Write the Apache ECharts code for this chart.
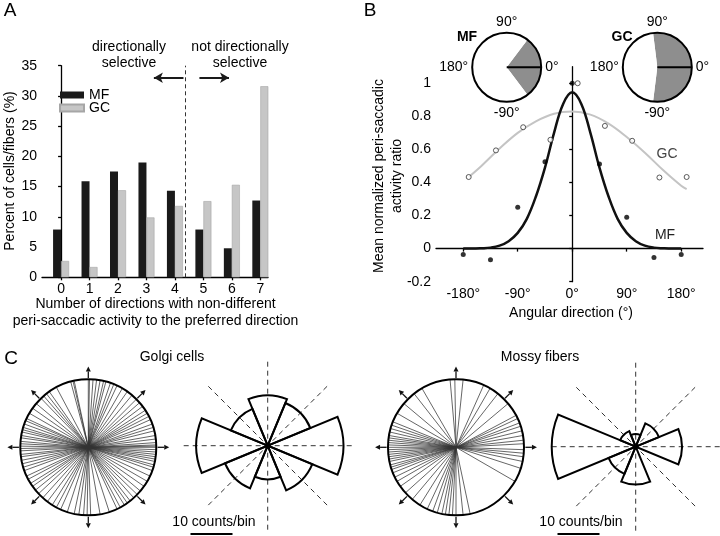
<!DOCTYPE html>
<html><head><meta charset="utf-8">
<script src="https://cdn.jsdelivr.net/npm/echarts@6/dist/echarts.min.js"></script>
<style>html,body{margin:0;padding:0;background:#fff}#c{width:720px;height:536px}</style>
</head><body><div id="c"></div>
<script>
// ---------- Panel A data ----------
const dirCounts = [0, 1, 2, 3, 4, 5, 6, 7];
const mfPercent = [7.9, 15.9, 17.5, 19.0, 14.3, 7.9, 4.8, 12.7];
const gcPercent = [2.7, 1.7, 14.4, 9.9, 11.8, 12.6, 15.3, 31.6];
const yTicksA = [0, 5, 10, 15, 20, 25, 30, 35];
// ---------- Panel B data ----------
const mfAngles = [-180, -135, -90, -45, 0, 45, 90, 135, 180];
const mfRatio = [-0.036, -0.068, 0.25, 0.525, 1.0, 0.511, 0.189, -0.054, -0.036];
const gcAngles = [-171, -126, -81, -36, 9, 54, 99, 144, 189];
const gcRatio = [0.433, 0.594, 0.734, 0.658, 1.0, 0.742, 0.652, 0.43, 0.433];
const mfFitAngles = [-180,-165,-150,-135,-120,-105,-90,-75,-60,-45,-30,-15,0,15,30,45,60,75,90,105,120,135,150,165,180];
const mfFit = [0,0,0.002,0.006,0.018,0.045,0.095,0.18,0.315,0.49,0.7,0.875,0.945,0.875,0.7,0.49,0.315,0.18,0.095,0.045,0.018,0.006,0.002,0,0];
const gcFitAngles = [-171,-150,-120,-90,-60,-30,0,30,60,90,120,150,180,189];
const gcFit = [0.433,0.50,0.605,0.70,0.77,0.816,0.829,0.81,0.756,0.675,0.58,0.475,0.38,0.36];
const xTicksB = [-180, -90, 0, 90, 180];
const yTicksB = [-0.2, 0, 0.2, 0.4, 0.6, 0.8, 1];
const mfPrefWidth = 106;   // degrees of gray sector, MF inset
const gcPrefWidth = 194;   // degrees of gray sector, GC inset
const insetAngleLabels = {0: '0°', 90: '90°', 180: '180°', 270: '-90°'};
// ---------- Panel C data ----------
const golgiAngles = [-20,-17,-15,-12,-10,-8,-6,-4,-2,0,1,2,4,7,10,14,17,20,
  24,27,30,33,37,41,45,50,55,60,65,
  68,71,75,77,80,83,86,89,90,102,103,105,
  118,125,128,131,134,140,145,150,155,157,
  160,163,165,167,170,172,175,177,179,181,183,186,188,191,194,197,200,
  205,208,212,215,219,223,228,233,238,242,246,
  252,258,262,266,269,272,280,288,
  295,298,302,305,308,312,316,320,325,330,335];
const mossyAngles = [-18,-12,-8,-5,-2,3,6,10,14,18,21,
  25,28,40,52,60,66,
  84,91,95,
  120,128,140,150,
  158,161,164,167,170,172,174,176,178,180,182,184,186,188,190,192,195,197,199,202,
  206,210,215,222,230,238,245,
  250,254,258,261,264,267,270,276,282,
  330];
const binLabels = ['0°','45°','90°','135°','180°','225°','270°','315°'];
const golgiBins = [18, 11, 12, 9.5, 17, 11, 8, 11.5];
const mossyBins = [11, 6, 3, 4, 20, 7, 9, 0];
const arrowDirs = [0, 45, 90, 135, 180, 225, 270, 315];
const scaleBarCounts = 10;

// ---------- layout / style ----------
const FONT = '"Liberation Sans", Arial, sans-serif';
const FS = 14;
const ROSE_R = 84, ROSE_MAX = 20;
const FAN_R = 68;
const INSET_R = 34.5;
const GRAY = '#8e8e8e';

const chart = echarts.init(document.getElementById('c'), null, {renderer: 'canvas'});

const polars = [
  {center: [506.7, 67.3], radius: INSET_R},   // 0 MF inset
  {center: [657.3, 67.3], radius: INSET_R},   // 1 GC inset
  {center: [88.3, 447.3], radius: FAN_R},     // 2 Golgi fan
  {center: [456, 447.3], radius: FAN_R},      // 3 Mossy fan
  {center: [267.7, 445.7], radius: ROSE_R},   // 4 Golgi rose
  {center: [267.7, 445.7], radius: ROSE_R},   // 5 Golgi dashed
  {center: [635.7, 446.7], radius: ROSE_R},   // 6 Mossy rose
  {center: [635.7, 446.7], radius: ROSE_R}    // 7 Mossy dashed
];

const hidden = {axisLine: {show: false}, axisTick: {show: false}, axisLabel: {show: false}, splitLine: {show: false}};
function circleAngle(i, labels) {
  return {polarIndex: i, type: 'value', min: 0, max: 360, interval: 90, startAngle: 0, clockwise: false, z: 5,
    axisLine: {show: true, lineStyle: {color: '#000', width: 2}},
    axisTick: {show: false}, splitLine: {show: false},
    axisLabel: labels ? {show: true, margin: 4, fontSize: FS, color: '#000', fontFamily: FONT,
      formatter: v => insetAngleLabels[v] || ''} : {show: false}};
}
const angleAxes = [
  circleAngle(0, true), circleAngle(1, true), circleAngle(2, false), circleAngle(3, false),
  Object.assign({polarIndex: 4, type: 'category', data: binLabels, startAngle: -22.5, clockwise: false}, hidden),
  Object.assign({polarIndex: 5, type: 'value', min: 0, max: 360, interval: 45, startAngle: 0, clockwise: false}, hidden,
    {splitLine: {show: true, lineStyle: {color: '#333', width: 1, type: [5, 4]}}}),
  Object.assign({polarIndex: 6, type: 'category', data: binLabels, startAngle: -22.5, clockwise: false}, hidden),
  Object.assign({polarIndex: 7, type: 'value', min: 0, max: 360, interval: 45, startAngle: 0, clockwise: false}, hidden,
    {splitLine: {show: true, lineStyle: {color: '#333', width: 1, type: [5, 4]}}})
];
const radiusAxes = polars.map((p, i) => Object.assign({polarIndex: i, type: 'value', min: 0,
  max: (i === 4 || i === 6) ? ROSE_MAX : 1}, hidden));

function fanSeries(pi, angles) {
  return {type: 'custom', coordinateSystem: 'polar', polarIndex: pi, silent: true, animation: false,
    data: angles.map(a => [1, a]),
    renderItem(params, api) {
      const p0 = api.coord([0, api.value(1)]);
      const p1 = api.coord([api.value(0), api.value(1)]);
      return {type: 'line', shape: {x1: p0[0], y1: p0[1], x2: p1[0], y2: p1[1]},
        style: {stroke: '#333', lineWidth: 0.75}};
    }};
}
function arrowSeries(pi) {
  return {type: 'custom', coordinateSystem: 'polar', polarIndex: pi, silent: true, animation: false,
    data: arrowDirs.map(a => [1, a]),
    renderItem(params, api) {
      const a = api.value(1);
      const p0 = api.coord([1.02, a]);
      const p1 = api.coord([1.19, a]);
      const dx = p1[0] - p0[0], dy = p1[1] - p0[1];
      const L = Math.sqrt(dx * dx + dy * dy);
      const ux = dx / L, uy = dy / L, nx = -uy, ny = ux;
      const bx = p1[0] - 5 * ux, by = p1[1] - 5 * uy;
      return {type: 'group', children: [
        {type: 'line', shape: {x1: p0[0], y1: p0[1], x2: bx, y2: by}, style: {stroke: '#111', lineWidth: 1.3}},
        {type: 'polygon', shape: {points: [[p1[0], p1[1]], [bx + 2.5 * nx, by + 2.5 * ny], [bx - 2.5 * nx, by - 2.5 * ny]]},
          style: {fill: '#111'}}
      ]};
    }};
}
function roseSeries(pi, bins) {
  return {type: 'bar', coordinateSystem: 'polar', polarIndex: pi, data: bins, barCategoryGap: '0%',
    silent: true, animation: false, z: 3,
    itemStyle: {color: 'rgba(255,255,255,0)', borderColor: '#000', borderWidth: 2}};
}
function insetPie(p, width) {
  return {type: 'pie', center: p.center, radius: [0, p.radius], startAngle: width / 2, clockwise: true,
    silent: true, animation: false, z: 1, label: {show: false}, labelLine: {show: false},
    itemStyle: {borderWidth: 0},
    data: [{value: width, itemStyle: {color: GRAY}}, {value: 360 - width, itemStyle: {color: '#fff'}}]};
}
function prefLine(pi) {
  return {type: 'line', coordinateSystem: 'polar', polarIndex: pi, data: [[0, 0], [1, 0]], symbol: 'none',
    silent: true, animation: false, z: 6, lineStyle: {color: '#000', width: 2}};
}

const axisLineStyle = {color: '#000', width: 1.3};
const txt = (text, x, y, extra) => ({type: 'text', x: x, y: y, silent: true,
  style: Object.assign({text: text, font: FS + 'px ' + FONT, fill: '#000', align: 'center', verticalAlign: 'middle',
    textAlign: 'center', textVerticalAlign: 'middle'}, extra || {})});
const rtxt = (text, x, y, extra) => Object.assign(txt(text, x, y, extra), {rotation: Math.PI / 2});
const barPx = scaleBarCounts * ROSE_R / ROSE_MAX;

const option = {
  animation: false,
  backgroundColor: '#fff',
  textStyle: {fontFamily: FONT},
  grid: [
    {left: 42, top: 65.7, width: 226, height: 211.6},
    {left: 436, top: 66.7, width: 267, height: 215}
  ],
  xAxis: [
    {gridIndex: 0, type: 'value', min: -0.67, max: 7.27,
      axisLine: {lineStyle: axisLineStyle}, splitLine: {show: false},
      axisTick: {customValues: dirCounts, length: 3, lineStyle: axisLineStyle},
      axisLabel: {customValues: dirCounts, fontSize: FS, color: '#000', margin: 5}},
    {gridIndex: 1, type: 'value', min: -225, max: 216,
      axisLine: {lineStyle: axisLineStyle}, splitLine: {show: false},
      axisTick: {customValues: xTicksB, length: 3, lineStyle: axisLineStyle},
      axisLabel: {customValues: xTicksB, fontSize: FS, color: '#000', margin: 5, formatter: v => v + '°'}}
  ],
  yAxis: [
    {gridIndex: 0, type: 'value', min: 0, max: 35,
      axisLine: {show: true, lineStyle: axisLineStyle}, splitLine: {show: false},
      axisTick: {show: true, customValues: yTicksA, length: 3, lineStyle: axisLineStyle},
      axisLabel: {customValues: yTicksA, fontSize: FS, color: '#000', margin: 5}},
    {gridIndex: 1, type: 'value', min: -0.2, max: 1.1,
      axisLine: {show: true, lineStyle: axisLineStyle}, splitLine: {show: false},
      axisTick: {show: true, customValues: yTicksB, length: 3, lineStyle: axisLineStyle},
      axisLabel: {customValues: yTicksB, fontSize: FS, color: '#000', margin: 5, formatter: v => String(+(+v).toFixed(1))}}
  ],
  polar: polars,
  angleAxis: angleAxes,
  radiusAxis: radiusAxes,
  legend: {data: ['MF', 'GC'], orient: 'vertical', left: 59, top: 88, itemWidth: 24, itemHeight: 7, itemGap: -1,
    padding: 0, icon: 'rect', textStyle: {fontSize: FS, color: '#000', fontFamily: FONT}, selectedMode: false},
  series: [
    {name: 'MF', type: 'bar', xAxisIndex: 0, yAxisIndex: 0, barWidth: 8, barGap: '0%',
      data: dirCounts.map((d, i) => [d, mfPercent[i]]),
      itemStyle: {color: '#1a1a1a'},
      markLine: {silent: true, symbol: 'none', label: {show: false}, animation: false,
        lineStyle: {type: [4, 3], color: '#333', width: 1},
        data: [[{coord: [4.5, 0]}, {coord: [4.5, 35]}]]}},
    {name: 'GC', type: 'bar', xAxisIndex: 0, yAxisIndex: 0, barWidth: 8, barGap: '0%',
      data: dirCounts.map((d, i) => [d, gcPercent[i]]),
      itemStyle: {color: '#c6c6c6', borderColor: '#a6a6a6', borderWidth: 0.6},
      markLine: {silent: true, symbol: ['none', 'arrow'], symbolSize: [8, 9], label: {show: false}, animation: false,
        lineStyle: {type: 'solid', color: '#1a1a1a', width: 2},
        data: [[{coord: [4.16, 33]}, {coord: [3.12, 33]}], [{coord: [4.72, 33]}, {coord: [5.76, 33]}]]}},
    {name: 'GC fit', type: 'line', xAxisIndex: 1, yAxisIndex: 1, smooth: 0.4, symbol: 'none',
      data: gcFitAngles.map((a, i) => [a, gcFit[i]]), lineStyle: {color: '#c4c4c4', width: 2}, z: 2},
    {name: 'MF fit', type: 'line', xAxisIndex: 1, yAxisIndex: 1, smooth: 0.4, symbol: 'none',
      data: mfFitAngles.map((a, i) => [a, mfFit[i]]), lineStyle: {color: '#111', width: 2.5}, z: 3},
    {name: 'MF pts', type: 'scatter', xAxisIndex: 1, yAxisIndex: 1, symbolSize: 5,
      data: mfAngles.map((a, i) => [a, mfRatio[i]]), itemStyle: {color: '#000'}, z: 4},
    {name: 'GC pts', type: 'scatter', xAxisIndex: 1, yAxisIndex: 1, symbolSize: 5,
      data: gcAngles.map((a, i) => [a, gcRatio[i]]), itemStyle: {color: '#fff', borderColor: '#333', borderWidth: 1}, z: 4},
    insetPie(polars[0], mfPrefWidth), insetPie(polars[1], gcPrefWidth),
    prefLine(0), prefLine(1),
    fanSeries(2, golgiAngles), fanSeries(3, mossyAngles),
    arrowSeries(2), arrowSeries(3),
    roseSeries(4, golgiBins), roseSeries(6, mossyBins)
  ],
  graphic: [
    txt('A', 10, 11, {font: '19px ' + FONT}),
    txt('B', 370, 11, {font: '19px ' + FONT}),
    txt('C', 11, 359, {font: '19px ' + FONT}),
    txt('directionally', 129, 47), txt('selective', 129, 63),
    txt('not directionally', 240, 47), txt('selective', 240, 63),
    rtxt('Percent of cells/fibers (%)', 10, 171),
    txt('Number of directions with non-different', 155.5, 304),
    txt('peri-saccadic activity to the preferred direction', 155.5, 321),
    rtxt('Mean normalized peri-saccadic', 379, 176),
    rtxt('activity ratio', 397, 176),
    txt('Angular direction (°)', 571, 313),
    txt('MF', 467, 37, {font: 'bold ' + FS + 'px ' + FONT}),
    txt('GC', 622, 37, {font: 'bold ' + FS + 'px ' + FONT}),
    txt('GC', 667, 154, {fill: '#444'}),
    txt('MF', 665, 235, {fill: '#222'}),
    txt('Golgi cells', 172, 357),
    txt('Mossy fibers', 540, 357),
    txt('10 counts/bin', 214, 522),
    txt('10 counts/bin', 581, 522),
    {type: 'line', silent: true, shape: {x1: 190.5, y1: 534, x2: 190.5 + barPx, y2: 534}, style: {stroke: '#000', lineWidth: 2}},
    {type: 'line', silent: true, shape: {x1: 557.5, y1: 534, x2: 557.5 + barPx, y2: 534}, style: {stroke: '#000', lineWidth: 2}}
  ]
};
chart.setOption(option);
</script></body></html>
